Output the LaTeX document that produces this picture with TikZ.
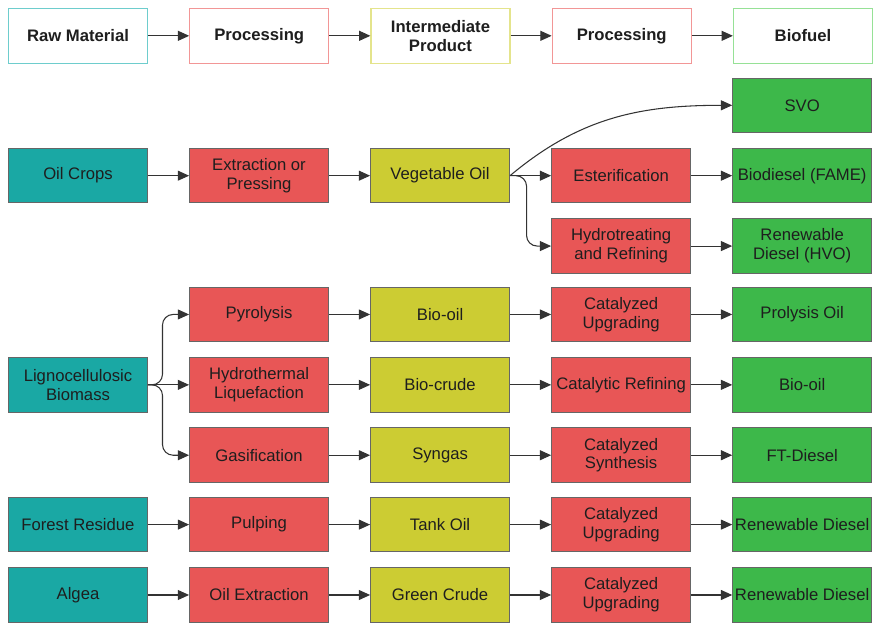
\documentclass[tikz,border=0pt]{standalone}
\usepackage{fontspec}
\setmainfont{Liberation Sans}
\usetikzlibrary{arrows.meta, positioning}

\definecolor{tealfill}{RGB}{26,168,164}
\definecolor{redfill}{RGB}{232,86,86}
\definecolor{yellowfill}{RGB}{204,204,51}
\definecolor{greenfill}{RGB}{61,184,74}
\definecolor{tealline}{RGB}{110,205,205}
\definecolor{redline}{RGB}{242,150,150}
\definecolor{yellowline}{RGB}{228,228,140}
\definecolor{greenline}{RGB}{150,225,150}
\definecolor{boxtext}{RGB}{30,30,30}

\begin{document}
\begin{tikzpicture}[
  font=\fontsize{12.6}{14.2}\selectfont,
  arrow/.style={-{Triangle[length=8.5pt,width=7.5pt]}, line width=0.8pt, draw=black!80},
  box/.style={
    draw=black!60,
    line width=0.75pt,
    align=center,
    minimum width=105pt,
    minimum height=41.25pt,
    inner sep=1pt,
    text=boxtext
  },
  head/.style={box, fill=white, line width=0.9pt, font=\fontsize{12.6}{14.2}\selectfont\bfseries},
  source/.style={box, fill=tealfill},
  process/.style={box, fill=redfill},
  product/.style={box, fill=yellowfill},
  fuel/.style={box, fill=greenfill},
  skiprow/.style={yshift=-52.45pt}, % one empty row between boxes
  node distance=11.2pt and 31.1pt
]

% =========================
% Header row
% =========================
\node[head, draw=tealline] (raw) {Raw Material};
\node[head, draw=redline, right=of raw] (proc1) {Processing};
\node[head, draw=yellowline, right=of proc1] (inter) {Intermediate\\Product};
\node[head, draw=redline, right=of inter] (proc2) {Processing};
\node[head, draw=greenline, right=of proc2] (biofuel) {Biofuel};

\draw[arrow] (raw) -- (proc1);
\draw[arrow] (proc1) -- (inter);
\draw[arrow] (inter) -- (proc2);
\draw[arrow] (proc2) -- (biofuel);

% =========================
% Oil crops
% =========================
\node[source, below=of raw, skiprow] (oilcrops) {Oil Crops};
\node[process, right=of oilcrops] (extract) {Extraction or\\Pressing};
\node[product, right=of extract] (vegoil) {Vegetable Oil};
\node[process, right=of vegoil] (ester) {Esterification};
\node[fuel, right=of ester] (fame) {Biodiesel (FAME)};
\node[fuel, above=of fame] (svo) {SVO};
\node[process, below=of ester] (hydro) {Hydrotreating\\and Refining};
\node[fuel, right=of hydro] (hvo) {Renewable\\Diesel (HVO)};

\draw[arrow] (oilcrops) -- (extract);
\draw[arrow] (extract) -- (vegoil);
\draw[arrow] (vegoil) -- (ester);
\draw[arrow] (ester) -- (fame);
\draw[arrow] (vegoil.east) to[out=40, in=180] (svo.west);
\draw[arrow, rounded corners=8pt] (vegoil.east) -- ++(12.5pt,0) |- (hydro.west);
\draw[arrow] (hydro) -- (hvo);

% =========================
% Lignocellulosic biomass
% =========================
\node[source, below=of oilcrops, yshift=-104.9pt] (ligno) {Lignocellulosic\\Biomass};
\node[process, right=of ligno] (htl) {Hydrothermal\\Liquefaction};
\node[product, right=of htl] (biocrude) {Bio-crude};
\node[process, right=of biocrude] (catref) {Catalytic Refining};
\node[fuel, right=of catref] (biooilb) {Bio-oil};

\node[process, above=of htl] (pyro) {Pyrolysis};
\node[product, right=of pyro] (biooil) {Bio-oil};
\node[process, right=of biooil] (catupa) {Catalyzed\\Upgrading};
\node[fuel, right=of catupa] (prolysis) {Prolysis Oil};

\node[process, below=of htl] (gasif) {Gasification};
\node[product, right=of gasif] (syngas) {Syngas};
\node[process, right=of syngas] (catsyn) {Catalyzed\\Synthesis};
\node[fuel, right=of catsyn] (ftd) {FT-Diesel};

\draw[arrow, rounded corners=8pt] (ligno.east) -- ++(11pt,0) |- (pyro.west);
\draw[arrow] (ligno) -- (htl);
\draw[arrow, rounded corners=8pt] (ligno.east) -- ++(11pt,0) |- (gasif.west);
\draw[arrow] (pyro) -- (biooil);
\draw[arrow] (biooil) -- (catupa);
\draw[arrow] (catupa) -- (prolysis);
\draw[arrow] (htl) -- (biocrude);
\draw[arrow] (biocrude) -- (catref);
\draw[arrow] (catref) -- (biooilb);
\draw[arrow] (gasif) -- (syngas);
\draw[arrow] (syngas) -- (catsyn);
\draw[arrow] (catsyn) -- (ftd);

% =========================
% Forest residue and algea
% =========================
\node[source, below=of ligno, skiprow] (forest) {Forest Residue};
\node[process, right=of forest] (pulping) {Pulping};
\node[product, right=of pulping] (tankoil) {Tank Oil};
\node[process, right=of tankoil] (catupb) {Catalyzed\\Upgrading};
\node[fuel, right=of catupb] (rdforest) {Renewable Diesel};

\node[source, below=of forest] (algea) {Algea};
\node[process, right=of algea] (oilext) {Oil Extraction};
\node[product, right=of oilext] (greencrude) {Green Crude};
\node[process, right=of greencrude] (catupc) {Catalyzed\\Upgrading};
\node[fuel, right=of catupc] (rdalgea) {Renewable Diesel};

\draw[arrow] (forest) -- (pulping);
\draw[arrow] (pulping) -- (tankoil);
\draw[arrow] (tankoil) -- (catupb);
\draw[arrow] (catupb) -- (rdforest);
\draw[arrow] (algea) -- (oilext);
\draw[arrow] (oilext) -- (greencrude);
\draw[arrow] (greencrude) -- (catupc);
\draw[arrow] (catupc) -- (rdalgea);

\path (raw.north west) ++(-6pt,6pt) coordinate (corner);
\useasboundingbox (corner) rectangle ++(654.75pt,-465.75pt);

\end{tikzpicture}
\end{document}
